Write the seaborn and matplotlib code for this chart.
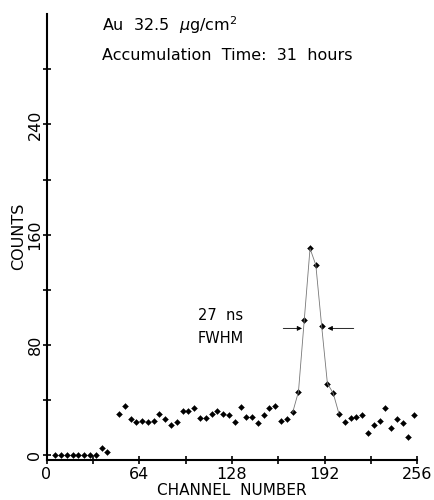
import numpy as np
import pandas as pd
import matplotlib
matplotlib.use("Agg")
import matplotlib.pyplot as plt
import seaborn as sns

# channels sampled every 4 channels (bin centres)
channels = [6, 10, 14, 18, 22, 26, 30, 34, 38, 42, 46, 50, 54, 58, 62,
            66, 70, 74, 78, 82, 86, 90, 94, 98, 102, 106, 110, 114, 118, 122,
            126, 130, 134, 138, 142, 146, 150, 154, 158, 162, 166, 170, 174, 178,
            182, 186, 190, 194, 198, 202, 206, 210, 214, 218, 222, 226, 230,
            234, 238, 242, 246, 250, 254]
counts = [0, 0, 0, 0, 0, 0, 0, 0, 5, 2, np.nan, 30, 36, 26, 24,
          25, 24, 25, 30, 26, 22, 24, 32, 32, 34, 27, 27, 30, 32, 30,
          29, 24, 35, 28, 28, 23, 29, 34, 36, 25, 26, 31, 46, 98,
          150, 138, 94, 52, 45, 30, 24, 27, 28, 29, 16, 22, 25,
          34, 20, 26, 23, 13, 29]

# the peak is traced through with a thin hand-drawn line
peak_channels = [170, 174, 178, 182, 186, 190, 194, 198, 202]
peak_counts = [31, 46, 98, 150, 138, 94, 52, 45, 30]

x_ticks = [0, 32, 64, 96, 128, 160, 192, 224, 256]
x_labels = ["0", "", "64", "", "128", "", "192", "", "256"]
y_ticks = [0, 40, 80, 120, 160, 200, 240, 280]
y_labels = ["0", "", "80", "", "160", "", "240", ""]

df = pd.DataFrame({"channel": channels, "counts": counts}).dropna()
peak = pd.DataFrame({"channel": peak_channels, "counts": peak_counts})

sns.set_style("ticks")
plt.rcParams['font.family'] = ['DejaVu Sans']
plt.rcParams['text.color'] = 'black'
plt.rcParams['axes.labelcolor'] = 'black'

fig = plt.figure(figsize=(4.35, 5), dpi=100)
ax = fig.add_axes([0.107, 0.08, 0.852, 0.893])

sns.lineplot(data=peak, x="channel", y="counts", ax=ax, color="#777777",
             linewidth=0.6, estimator=None, sort=False)
sns.scatterplot(data=df, x="channel", y="counts", ax=ax, color="black",
                marker="D", s=9, edgecolor="black", linewidth=0.3)

ax.set_xlim(0, 256)
ax.set_ylim(-3.5, 320.5)
ax.set_xticks(x_ticks)
ax.set_xticklabels(x_labels, fontsize=11.5)
ax.set_yticks(y_ticks)
ax.set_yticklabels(y_labels, fontsize=11.5, rotation=90, va="center")
ax.tick_params(direction="inout", length=6, width=1.2, colors="black")
ax.tick_params(axis="x", pad=2)
ax.tick_params(axis="y", pad=0)
for s in ["top", "right"]:
    ax.spines[s].set_visible(False)
for s in ["left", "bottom"]:
    ax.spines[s].set_linewidth(1.5)
    ax.spines[s].set_color("black")

ax.set_xlabel("CHANNEL  NUMBER", fontsize=11, labelpad=1)
ax.set_ylabel("COUNTS", fontsize=11.5, labelpad=1)

ax.text(38, 320, "Au  32.5  $\\mu$g/cm$^2$", fontsize=11.5, va="top")
ax.text(38, 290, "Accumulation  Time:  31  hours", fontsize=11.5, va="center")
ax.text(120, 101, "27  ns", fontsize=10.5, ha="center", va="center")
ax.text(120, 85, "FWHM", fontsize=10.5, ha="center", va="center")

arrow = dict(arrowstyle="-|>", color="black", linewidth=0.6, mutation_scale=7)
ax.annotate("", xy=(178.4, 92), xytext=(161.6, 92), arrowprops=arrow)
ax.annotate("", xy=(192.2, 92), xytext=(214.1, 92), arrowprops=arrow)

fig.savefig("out.png", dpi=100)
